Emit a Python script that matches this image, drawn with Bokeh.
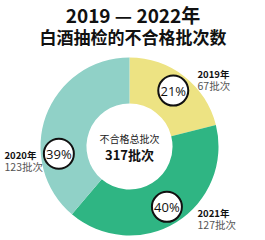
import math
from bokeh.plotting import figure
from bokeh.models import Range1d, ColumnDataSource
from bokeh.core.properties import value
from bokeh.embed import file_html
from bokeh.resources import INLINE

years = ["2019年", "2021年", "2020年"]
counts = [67, 127, 123]
colors = ["#EDE383", "#2FB583", "#90D1C7"]
total_label = "不合格总批次"
title1 = "2019 — 2022年"
title2 = "白酒抽检的不合格批次数"

FONT = "Noto Sans CJK SC"
W, H = 265, 240
cx, cy = 129, 94
r_out, r_in = 89, 43
r_lab = 71
label_nudge_deg = [0, 0, 26]  # angular shift of the percent badges

total = sum(counts)
starts, ends, mids, pcts = [], [], [], []
a = math.pi / 2
for c in counts:
    sweep = 2 * math.pi * c / total
    starts.append(a)
    ends.append(a - sweep)
    mids.append(a - sweep / 2)
    pcts.append(f"{round(100 * c / total)}%")
    a -= sweep

p = figure(width=W, height=H, output_backend="svg", toolbar_location=None,
           x_range=Range1d(0, W), y_range=Range1d(0, H), min_border=0)
p.axis.visible = False
p.grid.visible = False
p.outline_line_color = None
p.background_fill_color = "white"

src = ColumnDataSource(dict(start=starts, end=ends, color=colors))
p.annular_wedge(x=cx, y=cy, inner_radius=r_in, outer_radius=r_out,
                start_angle="end", end_angle="start", color="color",
                line_color=None, source=src)

lab_ang = [m + math.radians(n) for m, n in zip(mids, label_nudge_deg)]
lx = [cx + r_lab * math.cos(m) for m in lab_ang]
ly = [cy + r_lab * math.sin(m) for m in lab_ang]
p.circle(x=lx, y=ly, radius=15, fill_color="white", line_color="#111111", line_width=2)
p.text(x=lx, y=[v - 0.5 for v in ly], text=pcts, text_align="center", text_baseline="middle",
       text_font=value("Open Sans"), text_font_size="13px", text_color="#111111")

# titles
p.text(x=[W / 2], y=[H - 14], text=[title1], text_align="center", text_baseline="middle",
       text_font=value(FONT), text_font_size="19px", text_font_style="bold", text_color="#111111")
p.text(x=[W / 2], y=[H - 36], text=[title2], text_align="center", text_baseline="middle",
       text_font=value(FONT), text_font_size="17px", text_font_style="bold", text_color="#111111")

# center text
p.text(x=[cx], y=[cy + 8], text=[total_label], text_align="center", text_baseline="middle",
       text_font=value(FONT), text_font_size="10px", text_color="#222222")
p.text(x=[cx], y=[cy - 8], text=[f"{total}批次"], text_align="center", text_baseline="middle",
       text_font=value(FONT), text_font_size="13px", text_font_style="bold", text_color="#111111")

# side labels
lab_x = [197, 197, 4]
lab_y = [H - 73, H - 212, H - 154]
p.text(x=lab_x, y=lab_y, text=years, text_align="left", text_baseline="middle",
       text_font=value(FONT), text_font_size="9.5px", text_font_style="bold", text_color="#111111")
p.text(x=lab_x, y=[v - 12 for v in lab_y], text=[f"{c}批次" for c in counts],
       text_align="left", text_baseline="middle",
       text_font=value(FONT), text_font_size="10.5px", text_color="#555555")

open("out.html", "w").write(file_html(p, INLINE))
